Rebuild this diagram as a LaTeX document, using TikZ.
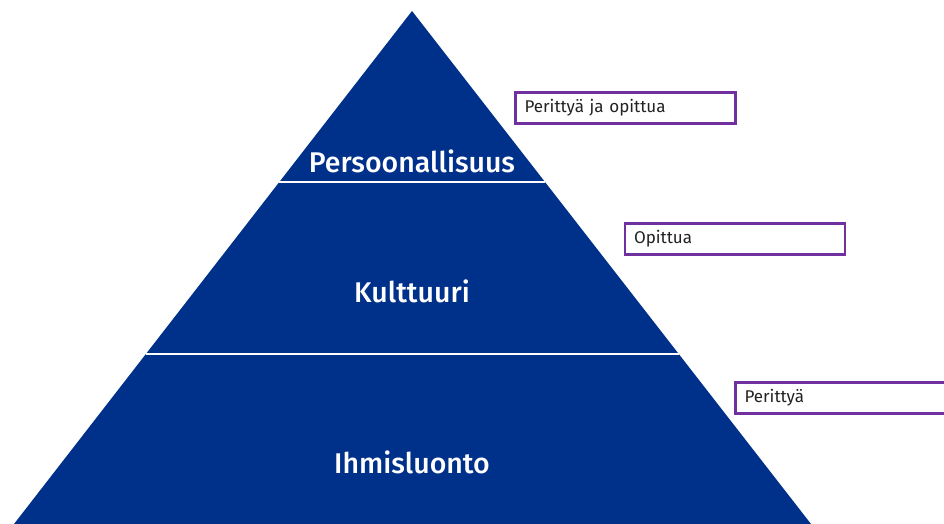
\documentclass[tikz,border=0pt]{standalone}
\usepackage{fontspec}
\setmainfont{Fira Sans}[UprightFont=* Medium]
\newfontfamily\tagfont{Fira Sans}
\definecolor{pyrblue}{HTML}{00318A}
\definecolor{tagpurple}{HTML}{7030A0}
\definecolor{tagtext}{HTML}{222222}
\begin{document}
\begin{tikzpicture}[x=1pt,y=-1pt,
  layerlabel/.style={text=white,font=\fontsize{28.5}{32}\selectfont},
  tagbox/.style={draw=tagpurple,line width=2.4pt,fill=white,minimum width=220pt,minimum height=31pt,
    text=tagtext,font=\tagfont\fontsize{17}{19}\selectfont,align=left,text width=202pt,inner xsep=9pt},
  divider/.style={draw=white,line width=1.2pt}]
\useasboundingbox (0,0) rectangle (944,524);
\clip (0,0) rectangle (944,524);
% pyramid outline
\coordinate (apex) at (412,11);
\coordinate (bl) at (14,524);
\coordinate (br) at (811,524);
\fill[pyrblue] (apex) -- (br) -- (bl) -- cycle;
% layer dividers
\coordinate (d1l) at (279.3,182);
\coordinate (d1r) at (545.3,182);
\coordinate (d2l) at (146,354);
\coordinate (d2r) at (679,354);
\draw[divider] (d1l) -- (d1r);
\draw[divider] (d2l) -- (d2r);
% layer names
\node[layerlabel] (pers) at (412,161) {Persoonallisuus};
\node[layerlabel] (kult) at (412,291) {Kulttuuri};
\node[layerlabel] (ihmi) at (412,462) {Ihmisluonto};
% side tags
\node[tagbox] (t1) at (625.5,108) {Perittyä ja opittua};
\node[tagbox] (t2) at (735,239) {Opittua};
\node[tagbox] (t3) at (845.5,398) {Perittyä};
\end{tikzpicture}
\end{document}
